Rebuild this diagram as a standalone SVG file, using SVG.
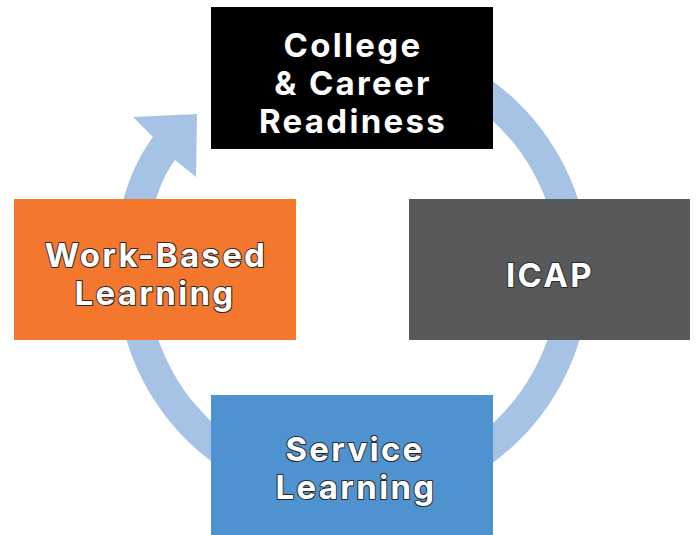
<svg xmlns="http://www.w3.org/2000/svg" width="696" height="535" viewBox="0 0 696 535">
  <style>
    .lbl { font-family: Inter, "Open Sans", "Liberation Sans", sans-serif; font-weight: 700; font-size: 33px; fill: #ffffff; text-anchor: middle; letter-spacing: 2.3px; }
    .out { stroke: #2a2a2a; stroke-width: 2px; paint-order: stroke; stroke-linejoin: round; }
  </style>
  <rect width="696" height="535" fill="#ffffff"/>
  <g id="connectors">
    <path d="M 353 35.5 A 236.5 236.5 0 1 1 126.5 340 C 103.5 263.4 117 185 153 137 L 133 117 L 197 114 L 196 177 L 175 160 C 148 196 135.4 273.9 158.5 340 A 206 206 0 1 0 353 66 Z" fill="#A6C3E6"/>
  </g>
  <g id="college">
    <rect x="211" y="7" width="282" height="142" fill="#000000"/>
    <text class="lbl" x="353" y="57">College</text>
    <text class="lbl" x="353" y="95">&amp; Career</text>
    <text class="lbl" x="353" y="133">Readiness</text>
  </g>
  <g id="icap">
    <rect x="409" y="199" width="281" height="141" fill="#58595B"/>
    <text class="lbl out" x="550" y="287">ICAP</text>
  </g>
  <g id="work-based">
    <rect x="14" y="199" width="282" height="141" fill="#F4772E"/>
    <text class="lbl out" x="156" y="267">Work-Based</text>
    <text class="lbl out" x="155" y="305">Learning</text>
  </g>
  <g id="service">
    <rect x="211" y="395" width="282" height="140" fill="#4E93CF"/>
    <text class="lbl out" x="355" y="461">Service</text>
    <text class="lbl out" x="356" y="499">Learning</text>
  </g>
</svg>
